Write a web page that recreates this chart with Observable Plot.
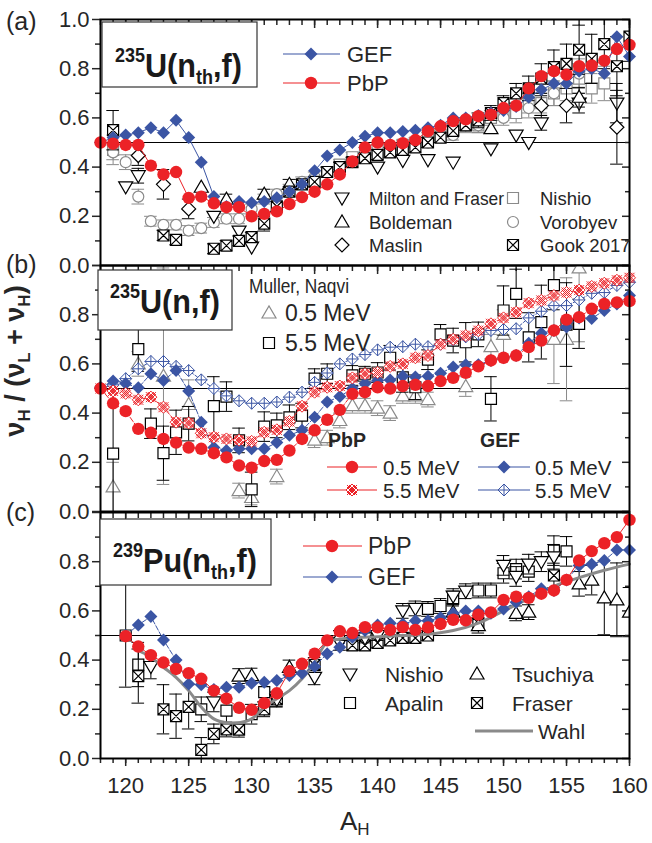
<!DOCTYPE html>
<html><head><meta charset="utf-8">
<script src="https://cdn.jsdelivr.net/npm/d3@7"></script>
<script src="https://cdn.jsdelivr.net/npm/@observablehq/plot@0.6"></script>
<style>
body{margin:0;background:#fff;}
#wrap{position:relative;width:652px;height:843px;background:#fff;overflow:hidden;}
#wrap > svg{position:absolute;left:0;}
</style></head><body><div id="wrap"></div>
<script>
// ---------- DATA ----------
const massAll = [118,119,120,121,122,123,124,125,126,127,128,129,130,131,132,133,134,135,136,137,138,139,140,141,142,143,144,145,146,147,148,149,150,151,152,153,154,155,156,157,158,159,160];
const massPu = [120,121,122,123,124,125,126,127,128,129,130,131,132,133,134,135,136,137,138,139,140,141,142,143,144,145,146,147,148,149,150,151,152,153,154,155,156,157,158,159,160];
const yMajor = [0, 0.2, 0.4, 0.6, 0.8, 1.0];
const yMinor = [0.1, 0.3, 0.5, 0.7, 0.9];
const xMajor = [120, 125, 130, 135, 140, 145, 150, 155, 160];

// panel (a) 235U(nth,f)
const gefA = [0.50,0.52,0.53,0.54,0.56,0.54,0.59,0.52,0.42,0.28,0.24,0.26,0.255,0.26,0.275,0.30,0.33,0.385,0.445,0.47,0.50,0.525,0.54,0.54,0.545,0.55,0.56,0.57,0.60,0.60,0.61,0.62,0.63,0.646,0.684,0.714,0.74,0.74,0.79,0.80,0.78,0.93,0.85];
const pbpA = [0.50,0.495,0.49,0.49,0.406,0.37,0.38,0.275,0.28,0.253,0.237,0.237,0.20,0.21,0.22,0.25,0.278,0.30,0.33,0.37,0.423,0.48,0.50,0.49,0.497,0.51,0.546,0.566,0.587,0.594,0.607,0.613,0.64,0.65,0.72,0.77,0.79,0.776,0.81,0.813,0.833,0.88,0.897];
const miltonA = [[120,0.32,0],[121,0.365,0.03],[127,0.20,0],[129,0.14,0],[130,0.075,0],[140,0.40,0],[142,0.427,0],[144,0.43,0],[146,0.42,0],[149,0.474,0],[151,0.53,0],[152,0.50,0],[153,0.58,0.03],[156,0.66,0.04],[159,0.66,0.08]];
const boldemanA = [[126,0.318,0],[128,0.27,0.02],[131,0.29,0.02],[133,0.33,0.02],[149,0.556,0],[156,0.684,0.04]];
const maslinA = [[121,0.447,0.04],[123,0.33,0.06],[125,0.23,0.04],[153,0.65,0.04],[155,0.65,0.07],[159,0.562,0.15]];
const nishioA = [[119,0.47,0.06],[137,0.41,0.02],[138,0.44,0.02],[139,0.46,0.02],[140,0.47,0.02],[141,0.47,0.02],[142,0.49,0.02],[143,0.50,0.02],[144,0.52,0.02],[145,0.53,0.02],[146,0.55,0.03],[147,0.57,0.03],[148,0.57,0.03],[149,0.60,0.03],[150,0.62,0.03],[151,0.62,0.04],[152,0.66,0.04],[153,0.66,0.04],[154,0.70,0.05],[155,0.72,0.05],[156,0.76,0.06],[157,0.72,0.06],[158,0.74,0.07]];
const vorobyevA = [[119,0.46,0.03],[120,0.42,0.03],[121,0.28,0.03],[122,0.18,0.02],[123,0.165,0.02],[124,0.165,0.02],[125,0.142,0.02],[126,0.152,0.02],[127,0.175,0.02],[128,0.19,0.02],[129,0.19,0.02],[130,0.23,0.02],[131,0.27,0.02],[132,0.29,0.02],[133,0.31,0.02],[134,0.34,0.02],[135,0.36,0.02],[136,0.38,0.02],[137,0.40,0.02],[138,0.42,0.02],[139,0.44,0.02],[140,0.45,0.02],[142,0.47,0.02],[144,0.50,0.02],[146,0.53,0.02],[148,0.57,0.03],[150,0.60,0.03],[152,0.64,0.04],[154,0.70,0.05],[156,0.78,0.06]];
const gookA = [[119,0.55,0.08],[123,0.122,0.02],[124,0.104,0.02],[127,0.068,0.02],[128,0.081,0.02],[129,0.10,0.02],[130,0.115,0.02],[131,0.17,0.03],[132,0.24,0.02],[133,0.30,0.02],[134,0.33,0.02],[135,0.34,0.02],[136,0.38,0.02],[137,0.40,0.02],[138,0.42,0.02],[139,0.436,0.02],[140,0.45,0.02],[141,0.46,0.02],[142,0.47,0.02],[143,0.48,0.02],[144,0.50,0.02],[145,0.52,0.02],[146,0.547,0.02],[147,0.57,0.02],[148,0.59,0.03],[149,0.62,0.03],[150,0.66,0.03],[151,0.70,0.04],[152,0.72,0.05],[153,0.76,0.06],[154,0.806,0.07],[155,0.82,0.08],[156,0.877,0.1],[157,0.84,0.1],[158,0.90,0.1],[159,0.81,0.12],[160,0.93,0.1]];

// panel (b) 235U(n,f)
const pbp05B = [0.50,0.44,0.408,0.336,0.32,0.295,0.28,0.26,0.255,0.237,0.22,0.187,0.178,0.205,0.21,0.248,0.295,0.33,0.373,0.413,0.478,0.485,0.505,0.50,0.51,0.515,0.51,0.53,0.543,0.564,0.59,0.614,0.625,0.634,0.668,0.695,0.736,0.78,0.79,0.824,0.844,0.85,0.855];
const pbp55B = [0.50,0.49,0.48,0.454,0.465,0.424,0.363,0.36,0.318,0.302,0.295,0.29,0.285,0.322,0.332,0.366,0.428,0.485,0.505,0.51,0.543,0.56,0.565,0.59,0.60,0.625,0.634,0.68,0.70,0.715,0.735,0.763,0.787,0.81,0.847,0.858,0.878,0.89,0.90,0.915,0.928,0.94,0.95];
const gef05B = [0.505,0.53,0.52,0.503,0.56,0.533,0.573,0.49,0.363,0.26,0.248,0.255,0.255,0.255,0.28,0.31,0.33,0.383,0.445,0.467,0.50,0.52,0.533,0.535,0.55,0.547,0.55,0.562,0.587,0.597,0.597,0.614,0.625,0.634,0.684,0.725,0.736,0.75,0.787,0.785,0.817,0.844,0.878];
const gef55B = [0.50,0.515,0.54,0.58,0.61,0.61,0.59,0.573,0.535,0.50,0.47,0.45,0.44,0.44,0.445,0.465,0.485,0.525,0.563,0.60,0.62,0.638,0.657,0.668,0.67,0.68,0.67,0.68,0.698,0.71,0.72,0.736,0.74,0.743,0.787,0.814,0.837,0.837,0.86,0.887,0.89,0.919,0.932];
const muller55 = [[119,0.235,0.26],[121,0.66,0.09],[122,0.357,0.06],[123,0.237,0.11],[124,0.322,0.09],[125,0.357,0.07],[127,0.428,0.12],[128,0.467,0.06],[129,0.289,0.05],[130,0.09,0.07],[131,0.345,0.06],[132,0.35,0.05],[133,0.383,0.05],[134,0.39,0.05],[135,0.54,0.04],[136,0.56,0.04],[138,0.553,0.04],[139,0.56,0.03],[140,0.565,0.04],[141,0.625,0.05],[142,0.545,0.06],[143,0.505,0.05],[144,0.617,0.04],[145,0.72,0.04],[146,0.695,0.05],[147,0.688,0.08],[148,0.72,0.05],[149,0.458,0.09],[150,0.817,0.1],[151,0.885,0.1],[152,0.708,0.1],[153,0.77,0.15],[154,0.92,0.1],[155,0.76,0.17],[156,0.763,0.1]];
const muller05 = [[119,0.10,0.1],[121,0.60,0.05],[123,0.55,0.44],[125,0.435,0.1],[129,0.085,0.03],[130,0.057,0.03],[132,0.142,0.03],[135,0.29,0.03],[136,0.30,0.03],[137,0.37,0.03],[138,0.43,0.03],[139,0.43,0.03],[140,0.42,0.03],[141,0.40,0.03],[142,0.47,0.03],[143,0.47,0.03],[144,0.455,0.03],[147,0.508,0.04],[149,0.67,0.05],[150,0.72,0.1],[154,0.70,0.18],[155,0.70,0.25],[156,0.99,0.3]];

// panel (c) 239Pu(nth,f)
const pbpPu = [0.497,0.455,0.42,0.39,0.364,0.347,0.324,0.276,0.243,0.206,0.198,0.225,0.265,0.355,0.385,0.426,0.48,0.517,0.51,0.534,0.533,0.523,0.534,0.523,0.533,0.547,0.564,0.562,0.585,0.594,0.645,0.658,0.653,0.67,0.683,0.726,0.805,0.843,0.875,0.90,0.97];
const gefPu = [0.50,0.543,0.577,0.482,0.40,0.303,0.30,0.28,0.29,0.29,0.306,0.31,0.317,0.337,0.347,0.374,0.426,0.452,0.493,0.52,0.543,0.55,0.547,0.56,0.56,0.572,0.59,0.60,0.60,0.59,0.608,0.635,0.658,0.69,0.683,0.726,0.785,0.79,0.805,0.848,0.848];
const wahlMass = [121,122,123,124,125,126,127,128,129,130,131,132,133,134,135,136,137,138,140,142,144,146,148,150,152,154,156,158,160];
const wahlVal = [0.439,0.412,0.371,0.33,0.276,0.209,0.161,0.145,0.145,0.161,0.209,0.243,0.276,0.324,0.392,0.473,0.485,0.49,0.495,0.50,0.505,0.52,0.55,0.60,0.65,0.70,0.735,0.765,0.79];
const nishioC = [[122,0.374,0.05],[127,0.23,0.04],[132,0.24,0.03],[135,0.33,0.03],[137,0.47,0.03],[139,0.49,0.02],[140,0.50,0.02],[142,0.60,0.03],[143,0.61,0.03],[146,0.66,0.03],[147,0.68,0.03],[150,0.785,0.04],[151,0.74,0.04],[152,0.79,0.04],[153,0.80,0.04],[154,0.82,0.05]];
const apalinC = [[120,0.50,0.21],[121,0.382,0.09],[126,0.20,0.05],[128,0.195,0.05],[130,0.18,0.04],[131,0.27,0.04],[144,0.608,0.03],[145,0.62,0.03],[146,0.65,0.03],[148,0.683,0.03],[149,0.683,0.03],[150,0.753,0.04],[151,0.77,0.04],[152,0.76,0.04],[154,0.845,0.06],[155,0.842,0.06]];
const tsuchiyaC = [[129,0.335,0.03],[130,0.337,0.03],[133,0.37,0.03],[137,0.50,0.02],[146,0.595,0.03],[148,0.54,0.03],[151,0.59,0.03],[152,0.595,0.03],[156,0.71,0.05],[157,0.725,0.06],[158,0.653,0.15],[159,0.645,0.15],[160,0.595,0.1]];
const fraserC = [[121,0.335,0.11],[123,0.20,0.1],[124,0.172,0.09],[125,0.21,0.09],[126,0.035,0.05],[127,0.10,0.04],[128,0.118,0.03],[129,0.117,0.03],[131,0.20,0.03],[132,0.24,0.03],[135,0.38,0.03],[138,0.46,0.02],[139,0.46,0.02],[140,0.47,0.02],[141,0.48,0.02],[142,0.49,0.02],[143,0.49,0.02],[144,0.50,0.02],[148,0.55,0.03],[154,0.744,0.05]];

// ---------- STYLE ----------
const BLUE = "#3b55a4", RED = "#ec2227", GREY = "#8a8a8a", INK = "#262626";
const FONT = '"Liberation Sans", Arial, sans-serif';

const sym = {
  triDown: {draw(c){ c.moveTo(-7,-5); c.lineTo(7,-5); c.lineTo(0,7); c.closePath(); }},
  triUp: {draw(c){ c.moveTo(-7,5); c.lineTo(7,5); c.lineTo(0,-7); c.closePath(); }},
  diamondOpen: {draw(c){ c.moveTo(0,-7); c.lineTo(7,0); c.lineTo(0,7); c.lineTo(-7,0); c.closePath(); }},
  square: {draw(c){ c.rect(-5.5,-5.5,11,11); }},
  squareX: {draw(c){ c.rect(-5.5,-5.5,11,11); c.moveTo(-5.5,-5.5); c.lineTo(5.5,5.5); c.moveTo(5.5,-5.5); c.lineTo(-5.5,5.5); }},
  circleOpen: {draw(c){ c.moveTo(5.5,0); c.arc(0,0,5.5,0,2*Math.PI); }},
  diamondFill: {draw(c){ c.moveTo(0,-6.5); c.lineTo(6.5,0); c.lineTo(0,6.5); c.lineTo(-6.5,0); c.closePath(); }},
  diamondPlus: {draw(c){ c.moveTo(0,-6); c.lineTo(6,0); c.lineTo(0,6); c.lineTo(-6,0); c.closePath(); c.moveTo(0,-6); c.lineTo(0,6); c.moveTo(-6,0); c.lineTo(6,0); }},
  xHatch: {draw(c){ c.moveTo(0,-6); c.lineTo(6,0); c.lineTo(0,6); c.lineTo(-6,0); c.closePath();
    c.moveTo(-5,-5); c.lineTo(5,5); c.moveTo(5,-5); c.lineTo(-5,5);
    c.moveTo(-3,-5); c.lineTo(5,3); c.moveTo(-5,-3); c.lineTo(3,5); c.moveTo(3,-5); c.lineTo(-5,3); c.moveTo(5,-3); c.lineTo(-3,5); }}
};

const pts = (xs, ys) => xs.map((A, i) => ({A, v: ys[i]}));
const exp = arr => arr.map(([A, v, e]) => ({A, v, e}));

function errBars(arr, color) {
  const d = exp(arr).filter(p => p.e > 0);
  const o = {stroke: color, strokeWidth: 1, clip: true};
  return [
    Plot.ruleX(d, {x: "A", y1: p => p.v - p.e, y2: p => p.v + p.e, ...o}),
    Plot.ruleY(d, {y: p => p.v - p.e, x1: p => p.A - 0.5, x2: p => p.A + 0.5, ...o}),
    Plot.ruleY(d, {y: p => p.v + p.e, x1: p => p.A - 0.5, x2: p => p.A + 0.5, ...o})
  ];
}
function expDots(arr, symbol, color) {
  return Plot.dot(exp(arr), {x: "A", y: "v", symbol, fill: "white", stroke: color, strokeWidth: 1.2, clip: true});
}
function model(xs, ys, color, symbol, opts = {}) {
  const d = pts(xs, ys);
  const m = [Plot.line(d, {x: "A", y: "v", stroke: color, strokeWidth: 1, strokeDasharray: opts.dash})];
  if (symbol === "circle") m.push(Plot.dot(d, {x: "A", y: "v", r: 6.2, fill: color}));
  else if (opts.open) m.push(Plot.dot(d, {x: "A", y: "v", symbol, fill: "white", stroke: color, strokeWidth: 1}));
  else m.push(Plot.dot(d, {x: "A", y: "v", symbol, fill: color}));
  return m;
}

function axes(yLabels, bottomAxis) {
  const noText = () => "";
  const ax = [
    Plot.ruleY([0.5], {stroke: "black", strokeWidth: 1.2}),
    Plot.axisY(yMajor, {anchor: "left", tickSize: 8, tickPadding: 3, strokeWidth: 1.5, fontSize: 22, label: null,
      tickFormat: d => yLabels.includes(d) ? d.toFixed(1) : ""}),
    Plot.axisY(yMinor, {anchor: "left", tickSize: 5, strokeWidth: 1.5, label: null, tickFormat: noText}),
    Plot.axisY(yMajor, {anchor: "right", tickSize: -8, strokeWidth: 1.5, label: null, tickFormat: noText}),
    Plot.axisY(yMinor, {anchor: "right", tickSize: -5, strokeWidth: 1.5, label: null, tickFormat: noText}),
    Plot.axisX(massAll, {anchor: "top", tickSize: -5, strokeWidth: 1.5, label: null, tickFormat: noText}),
    Plot.axisX(xMajor, {anchor: "top", tickSize: -8, strokeWidth: 1.5, label: null, tickFormat: noText})
  ];
  if (bottomAxis) {
    ax.push(Plot.axisX(massAll, {anchor: "bottom", tickSize: 5, strokeWidth: 1.5, label: null, tickFormat: noText}));
    ax.push(Plot.axisX(xMajor, {anchor: "bottom", tickSize: 8, tickPadding: 11, strokeWidth: 1.5, fontSize: 22, label: null, tickFormat: d => String(d)}));
  }
  return ax;
}

function panel(top, mt, mb, marks) {
  const svg = Plot.plot({
    width: 652, height: mt + 246 + mb,
    marginLeft: 100, marginRight: 23, marginTop: mt, marginBottom: mb,
    x: {domain: [118, 160], axis: null},
    y: {domain: [0, 1], axis: null},
    style: {background: "none", overflow: "visible", fontFamily: FONT, color: INK},
    marks
  });
  svg.style.position = "absolute";
  svg.style.top = top + "px";
  svg.style.left = "0px";
  document.getElementById("wrap").appendChild(svg);
}

// panel (a)
panel(0, 19, 8, [
  ...axes(yMajor, false),
  ...errBars(nishioA, GREY), expDots(nishioA, sym.square, GREY),
  ...errBars(vorobyevA, GREY), expDots(vorobyevA, sym.circleOpen, GREY),
  ...errBars(miltonA, "black"), expDots(miltonA, sym.triDown, "black"),
  ...errBars(boldemanA, "black"), expDots(boldemanA, sym.triUp, "black"),
  ...errBars(maslinA, "black"), expDots(maslinA, sym.diamondOpen, "black"),
  ...errBars(gookA, "black"), expDots(gookA, sym.squareX, "black"),
  ...model(massAll, gefA, BLUE, sym.diamondFill),
  ...model(massAll, pbpA, RED, "circle"),
  Plot.frame({stroke: "black", strokeWidth: 2})
]);

// panel (b)
panel(255, 10, 8, [
  ...axes([0, 0.2, 0.4, 0.6, 0.8], false),
  ...errBars(muller05, GREY), expDots(muller05, sym.triUp, GREY),
  ...errBars(muller55, "black"), expDots(muller55, sym.square, "black"),
  ...model(massAll, gef55B, BLUE, sym.diamondPlus, {open: true, dash: "3,2"}),
  ...model(massAll, gef05B, BLUE, sym.diamondFill, {dash: "5,2"}),
  ...model(massAll, pbp55B, RED, sym.xHatch, {open: true, dash: "3,2"}),
  ...model(massAll, pbp05B, RED, "circle", {dash: "5,2"}),
  Plot.frame({stroke: "black", strokeWidth: 2})
]);

// panel (c)
panel(502, 10, 85, [
  ...axes([0, 0.2, 0.4, 0.6, 0.8], true),
  ...errBars(apalinC, "black"), expDots(apalinC, sym.square, "black"),
  ...errBars(fraserC, "black"), expDots(fraserC, sym.squareX, "black"),
  ...errBars(nishioC, "black"), expDots(nishioC, sym.triDown, "black"),
  ...errBars(tsuchiyaC, "black"), expDots(tsuchiyaC, sym.triUp, "black"),
  Plot.line(pts(wahlMass, wahlVal), {x: "A", y: "v", stroke: GREY, strokeWidth: 3, curve: "catmull-rom"}),
  ...model(massPu, gefPu, BLUE, sym.diamondFill, {dash: "5,2"}),
  ...model(massPu, pbpPu, RED, "circle"),
  Plot.frame({stroke: "black", strokeWidth: 2})
]);

// ---------- OVERLAY: titles, legends, labels ----------
const ov = d3.select("#wrap").append("svg").attr("width", 652).attr("height", 843)
  .style("position", "absolute").style("left", "0px").style("top", "0px").style("pointer-events", "none");

function txt(x, y, s, o = {}) {
  const t = ov.append("text").attr("x", x).attr("y", y).attr("font-family", FONT)
    .attr("font-size", o.size || 20).attr("fill", o.fill || INK)
    .attr("dominant-baseline", o.base || "central").text(s);
  if (o.bold) t.attr("font-weight", "bold");
  if (o.len) t.attr("textLength", o.len).attr("lengthAdjust", "spacingAndGlyphs");
  if (o.anchor) t.attr("text-anchor", o.anchor);
  return t;
}
function symAt(x, y, s, fill, stroke, sw = 1.2) {
  ov.append("path").attr("transform", `translate(${x},${y})`).attr("d", d3.symbol(s, 64)())
    .attr("fill", fill).attr("stroke", stroke || "none").attr("stroke-width", sw);
}
function lineAt(x1, x2, y, color, w = 1.2) {
  ov.append("line").attr("x1", x1).attr("x2", x2).attr("y1", y).attr("y2", y).attr("stroke", color).attr("stroke-width", w);
}
function title(box, x, y, parts) {
  ov.append("rect").attr("x", box[0]).attr("y", box[1]).attr("width", box[2]).attr("height", box[3])
    .attr("fill", "white").attr("stroke", "#333").attr("stroke-width", 1.2);
  const g = ov.append("g").attr("transform", `translate(${x},${y}) scale(0.9,1)`);
  const t = g.append("text").attr("font-family", FONT).attr("font-weight", "bold").attr("fill", "#1a1a1a");
  let cur = 0;
  parts.forEach(([s, kind]) => {
    const off = kind === "sup" ? -15 : kind === "sub" ? 7 : 0;
    t.append("tspan").attr("font-size", kind ? 20 : 34).attr("dy", off - cur).text(s);
    cur = off;
  });
}
function circleAt(x, y, r, color) {
  ov.append("circle").attr("cx", x).attr("cy", y).attr("r", r).attr("fill", color);
}

// panel labels
txt(6, 21, "(a)", {size: 25});
txt(6, 264, "(b)", {size: 25});
txt(6, 512, "(c)", {size: 25});

// panel (a)
title([102, 22, 155, 65], 115, 77, [["235", "sup"], ["U(n", ""], ["th", "sub"], [",f)", ""]]);
lineAt(283, 340, 54, BLUE); symAt(311, 54, sym.diamondFill, BLUE);
txt(347, 54, "GEF", {size: 22});
lineAt(283, 340, 83, RED); circleAt(311, 83, 6.2, RED);
txt(347, 83, "PbP", {size: 22});
symAt(342, 198, sym.triDown, "white", "black"); txt(369, 198, "Milton and Fraser", {size: 18.5, len: 135});
symAt(342, 222, sym.triUp, "white", "black"); txt(369, 222, "Boldeman", {size: 18.5});
symAt(342, 245, sym.diamondOpen, "white", "black"); txt(369, 245, "Maslin", {size: 18.5});
symAt(513, 198, sym.square, "white", GREY); txt(540, 198, "Nishio", {size: 18.5});
symAt(513, 222, sym.circleOpen, "white", GREY); txt(540, 222, "Vorobyev", {size: 18.5});
symAt(513, 245, sym.squareX, "white", "black"); txt(540, 245, "Gook 2017", {size: 18.5});

// panel (b)
title([98, 270, 134, 60], 110, 313, [["235", "sup"], ["U(n,f)", ""]]);
txt(249, 285, "Muller, Naqvi", {size: 21, len: 100});
symAt(269, 313, sym.triUp, "white", GREY); txt(285, 313, "0.5 MeV", {size: 23});
symAt(269, 343, sym.square, "white", "black"); txt(285, 343, "5.5 MeV", {size: 23});
txt(328, 440, "PbP", {size: 20, bold: true, len: 38});
txt(480, 440, "GEF", {size: 20, bold: true, len: 40});
lineAt(327, 377, 467, RED); circleAt(352, 467, 6.2, RED); txt(383, 467, "0.5 MeV", {size: 20.5});
lineAt(327, 377, 490, RED); symAt(352, 490, sym.xHatch, "white", RED, 1); txt(383, 490, "5.5 MeV", {size: 20.5});
lineAt(478, 530, 467, BLUE); symAt(504, 467, sym.diamondFill, BLUE); txt(535, 467, "0.5 MeV", {size: 20.5});
lineAt(478, 530, 490, BLUE); symAt(504, 490, sym.diamondPlus, "white", BLUE, 1); txt(535, 490, "5.5 MeV", {size: 20.5});

// panel (c)
title([100, 519, 171, 66], 113, 572, [["239", "sup"], ["Pu(n", ""], ["th", "sub"], [",f)", ""]]);
lineAt(303, 362, 546, RED); circleAt(332, 546, 6.2, RED); txt(368, 546, "PbP", {size: 23});
lineAt(303, 362, 577, BLUE); symAt(332, 577, sym.diamondFill, BLUE); txt(368, 577, "GEF", {size: 23});
symAt(350, 674, sym.triDown, "white", "black"); txt(385, 674, "Nishio", {size: 21});
symAt(350, 703, sym.square, "white", "black"); txt(385, 703, "Apalin", {size: 21});
symAt(477, 674, sym.triUp, "white", "black"); txt(512, 674, "Tsuchiya", {size: 21});
symAt(477, 703, sym.squareX, "white", "black"); txt(512, 703, "Fraser", {size: 21});
lineAt(475, 533, 731, GREY, 3); txt(538, 731, "Wahl", {size: 21});

// axis titles
const yl = ov.append("g").attr("transform", "translate(24,361) rotate(-90)");
const ylt = yl.append("text").attr("text-anchor", "middle").attr("font-family", FONT).attr("font-weight", "bold")
  .attr("font-size", 27).attr("fill", INK);
ylt.append("tspan").text("ν");
ylt.append("tspan").attr("font-size", 17).attr("dy", 6).text("H");
ylt.append("tspan").attr("dy", -6).text(" / (ν");
ylt.append("tspan").attr("font-size", 17).attr("dy", 6).text("L");
ylt.append("tspan").attr("dy", -6).text(" + ν");
ylt.append("tspan").attr("font-size", 17).attr("dy", 6).text("H");
ylt.append("tspan").attr("dy", -6).text(")");

const xl = ov.append("text").attr("x", 340).attr("y", 830).attr("font-family", FONT).attr("font-size", 26).attr("fill", INK);
xl.append("tspan").text("A");
xl.append("tspan").attr("font-size", 17).attr("dy", 5).text("H");
</script></body></html>
